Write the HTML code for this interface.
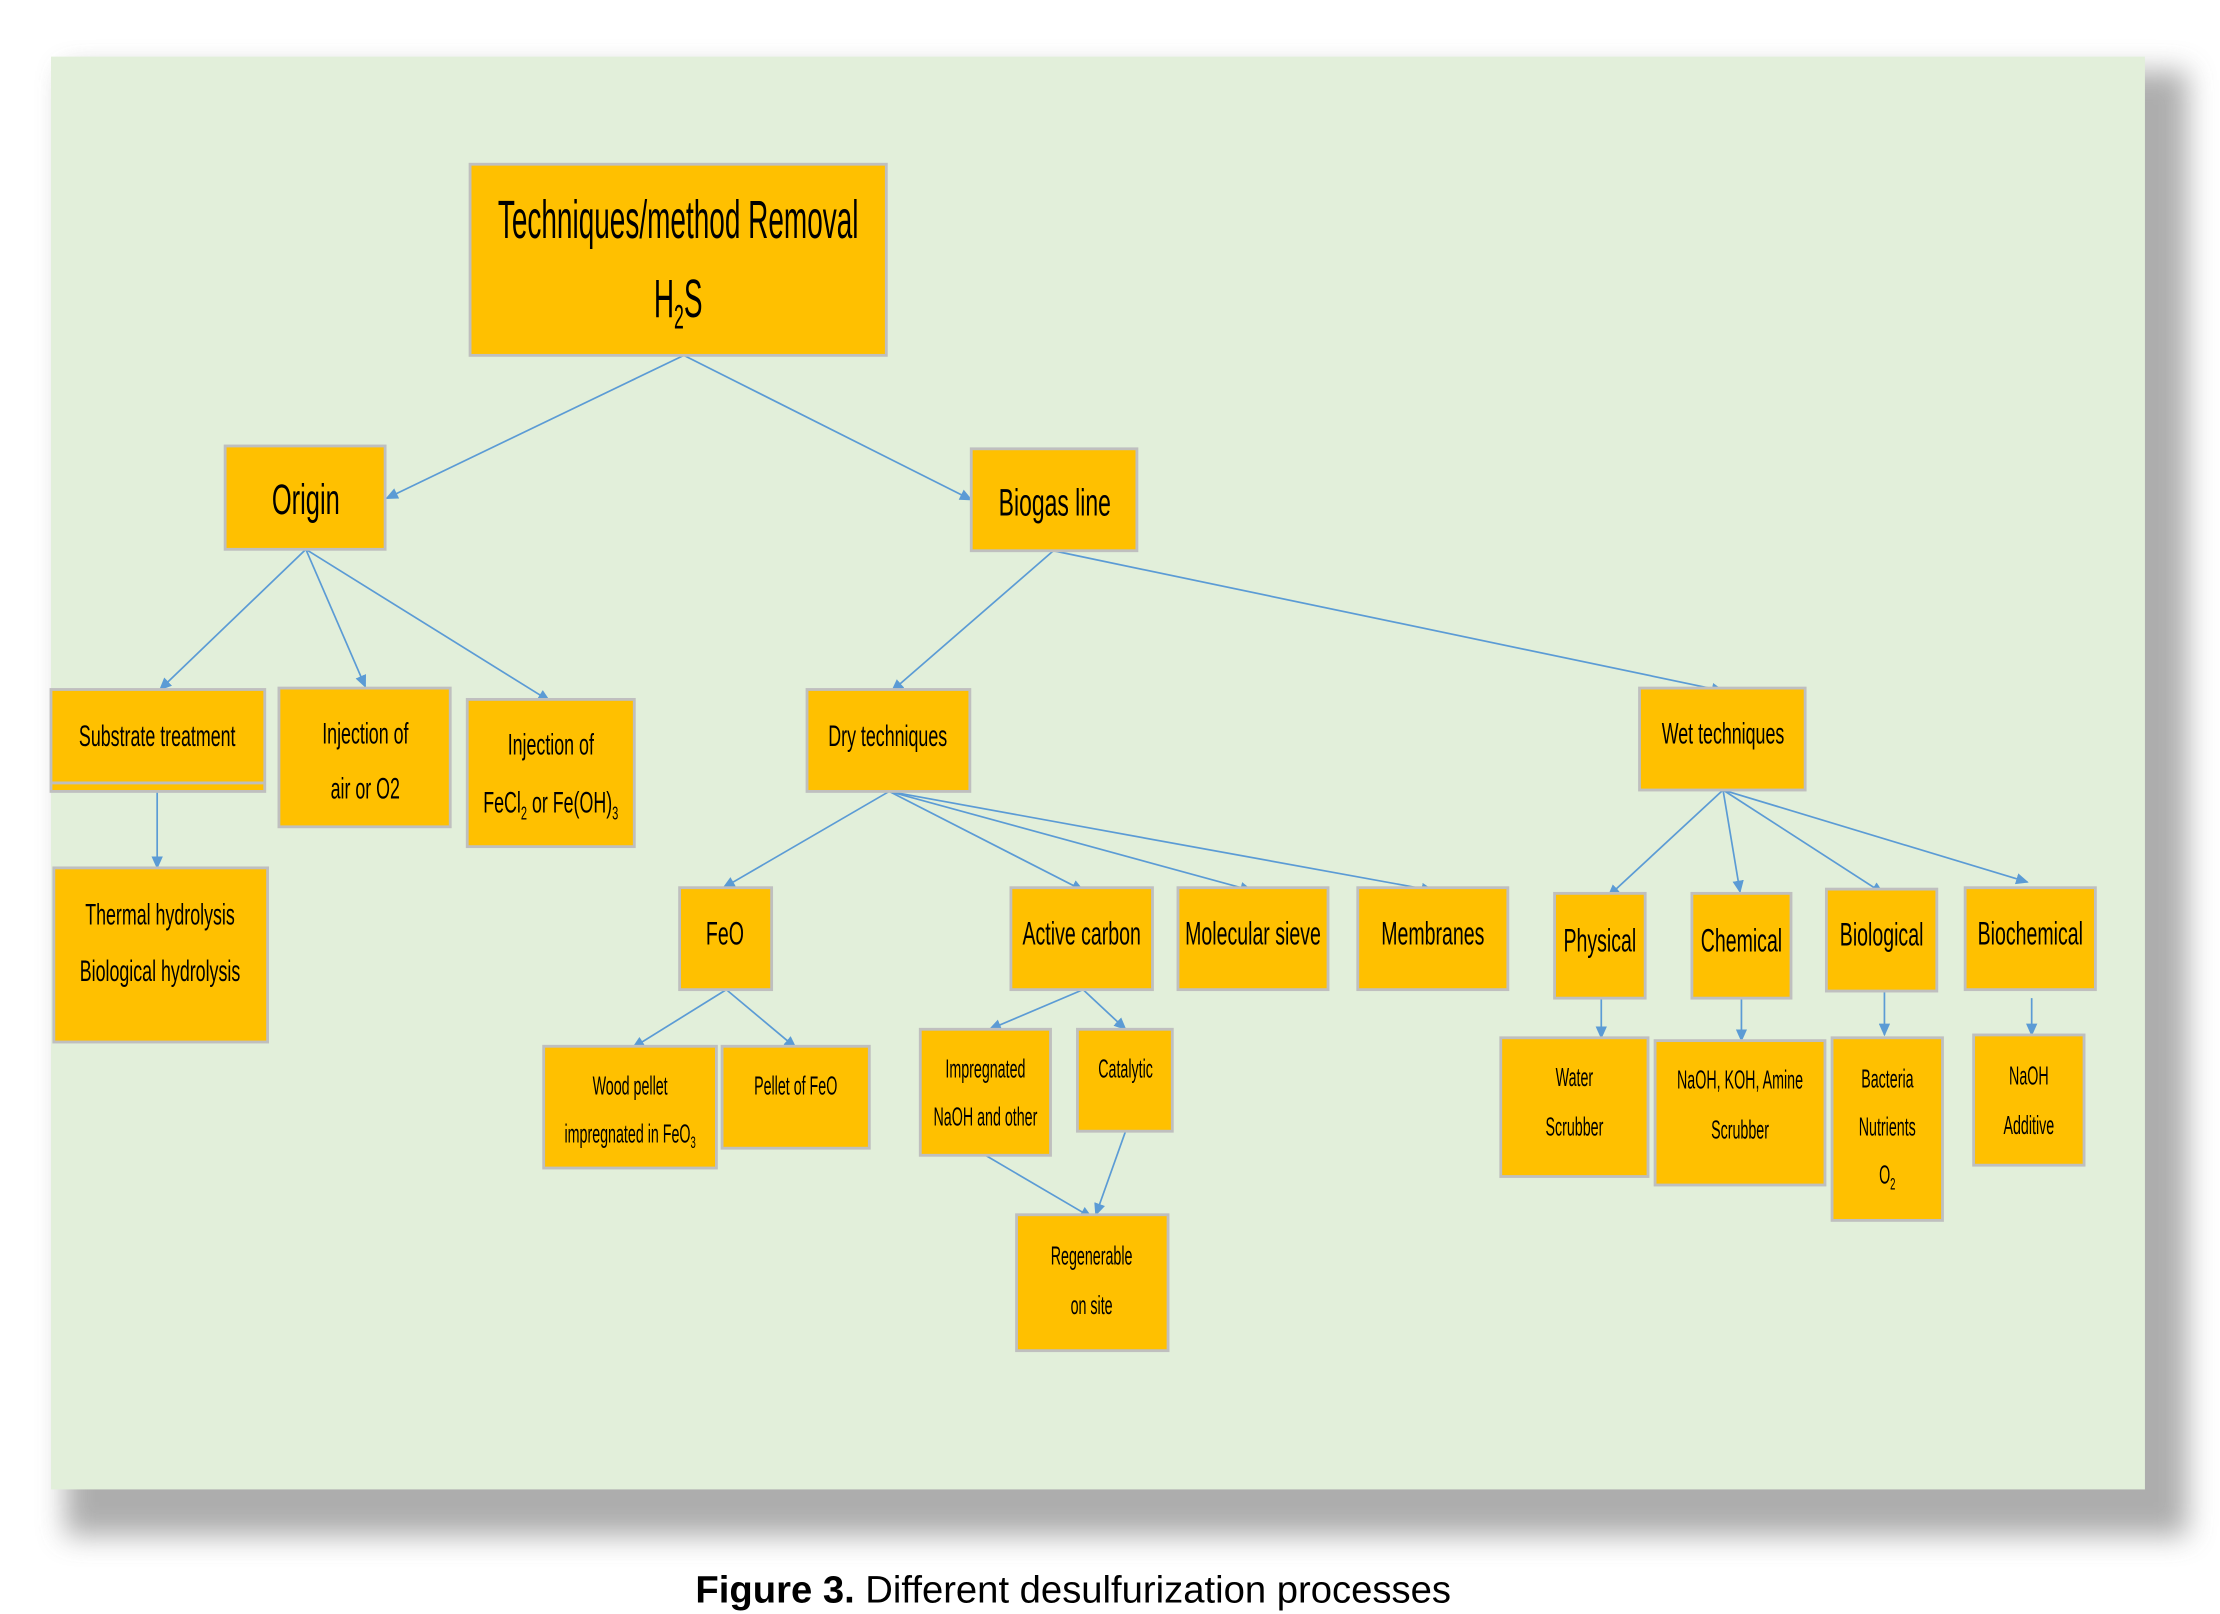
<!DOCTYPE html>
<html><head><meta charset="utf-8"><style>
html,body{margin:0;padding:0;background:#fff;}
svg{display:block}
text{font-family:"Liberation Sans",sans-serif;fill:#000;text-anchor:middle;transform-box:fill-box;transform-origin:center;transform:scaleX(0.6)}
text.t{transform:scaleX(0.52)}
text.s{transform:scaleX(0.56)}
text.c{transform:none}
</style></head><body>
<svg width="2220" height="1614" viewBox="0 0 1568 1140" xmlns="http://www.w3.org/2000/svg">
<defs>
<marker id="a" markerWidth="9" markerHeight="8" refX="8" refY="4" orient="auto" markerUnits="userSpaceOnUse">
<path d="M0,0 L9,4 L0,8 z" fill="#5B9BD5"/></marker>
<filter id="b" x="-5%" y="-5%" width="110%" height="110%"><feGaussianBlur stdDeviation="10"/></filter>
</defs>
<rect x="0" y="0" width="1568" height="1140" fill="#fff"/>
<rect x="46" y="50" width="1499" height="1035" fill="#999" filter="url(#b)" opacity="0.8"/>
<rect x="36" y="40" width="1479" height="1012" fill="#E2EFDA"/>
<g stroke="#5B9BD5" stroke-width="1.2" fill="none" marker-end="url(#a)">
<line x1="483" y1="251" x2="273" y2="352"/>
<line x1="483" y1="251" x2="686" y2="353"/>
<line x1="216" y1="388" x2="113" y2="487"/>
<line x1="216" y1="388" x2="258" y2="485"/>
<line x1="216" y1="388" x2="388" y2="495"/>
<line x1="111" y1="559" x2="111" y2="613"/>
<line x1="744" y1="389" x2="630" y2="488"/>
<line x1="744" y1="389" x2="1217" y2="488"/>
<line x1="628" y1="559" x2="511" y2="627"/>
<line x1="628" y1="559" x2="765" y2="629"/>
<line x1="628" y1="559" x2="884" y2="629"/>
<line x1="628" y1="559" x2="1012" y2="629"/>
<line x1="1217" y1="558" x2="1136" y2="633"/>
<line x1="1217" y1="558" x2="1229" y2="630"/>
<line x1="1217" y1="558" x2="1330" y2="631"/>
<line x1="1217" y1="558" x2="1432" y2="623"/>
<line x1="513" y1="699" x2="447" y2="740"/>
<line x1="513" y1="699" x2="562" y2="740"/>
<line x1="765" y1="699" x2="699" y2="727"/>
<line x1="765" y1="699" x2="795" y2="727"/>
<line x1="696" y1="816" x2="771" y2="860"/>
<line x1="795" y1="799" x2="774" y2="858"/>
<line x1="1131" y1="705" x2="1131" y2="733"/>
<line x1="1230" y1="705" x2="1230" y2="735"/>
<line x1="1331" y1="700" x2="1331" y2="731"/>
<line x1="1435" y1="705" x2="1435" y2="731"/>
</g>
<g fill="#FFC000" stroke="#BFBFBF" stroke-width="2">
<rect x="332" y="116" width="294" height="135"/>
<rect x="159" y="315" width="113" height="73"/>
<rect x="686" y="317" width="117" height="72"/>
<rect x="36" y="487" width="151" height="72"/>
<rect x="197" y="486" width="121" height="98"/>
<rect x="330" y="494" width="118" height="104"/>
<rect x="38" y="613" width="151" height="123"/>
<rect x="570" y="487" width="115" height="72"/>
<rect x="1158" y="486" width="117" height="72"/>
<rect x="480" y="627" width="65" height="72"/>
<rect x="714" y="627" width="100" height="72"/>
<rect x="832" y="627" width="106" height="72"/>
<rect x="959" y="627" width="106" height="72"/>
<rect x="1098" y="631" width="64" height="74"/>
<rect x="1195" y="631" width="70" height="74"/>
<rect x="1290" y="628" width="78" height="72"/>
<rect x="1388" y="627" width="92" height="72"/>
<rect x="384" y="739" width="122" height="86"/>
<rect x="510" y="739" width="104" height="72"/>
<rect x="650" y="727" width="92" height="89"/>
<rect x="761" y="727" width="67" height="72"/>
<rect x="718" y="858" width="107" height="96"/>
<rect x="1060" y="733" width="104" height="98"/>
<rect x="1169" y="735" width="120" height="102"/>
<rect x="1294" y="733" width="78" height="129"/>
<rect x="1394" y="731" width="78" height="92"/>
</g>
<line x1="36" y1="553" x2="187" y2="553" stroke="#BFBFBF" stroke-width="2"/>
<text class="t" x="479" y="168" font-size="38">Techniques/method  Removal</text>
<text class="t" x="479" y="224" font-size="38">H<tspan font-size="24" dy="8">2</tspan><tspan dy="-8">S</tspan></text>
<text x="216" y="363" font-size="30">Origin</text>
<text x="745" y="364" font-size="27">Biogas line</text>
<text x="111" y="527" font-size="21">Substrate treatment</text>
<text x="258" y="525" font-size="21">Injection of</text>
<text x="258" y="564" font-size="21">air or O2</text>
<text x="389" y="533" font-size="21">Injection of</text>
<text x="389" y="574" font-size="21">FeCl<tspan font-size="13" dy="5">2</tspan><tspan dy="-5"> or Fe(OH)</tspan><tspan font-size="13" dy="5">3</tspan></text>
<text x="113" y="653" font-size="21">Thermal hydrolysis</text>
<text x="113" y="693" font-size="21">Biological hydrolysis</text>
<text x="627" y="527" font-size="21">Dry techniques</text>
<text x="1217" y="525" font-size="21">Wet techniques</text>
<text x="512" y="667" font-size="23">FeO</text>
<text x="764" y="667" font-size="23">Active carbon</text>
<text x="885" y="667" font-size="23">Molecular sieve</text>
<text x="1012" y="667" font-size="23">Membranes</text>
<text x="1130" y="672" font-size="23">Physical</text>
<text x="1230" y="672" font-size="23">Chemical</text>
<text x="1329" y="668" font-size="23">Biological</text>
<text x="1434" y="667" font-size="23">Biochemical</text>
<text class="s" x="445" y="773" font-size="18">Wood pellet</text>
<text class="s" x="445" y="807" font-size="18">impregnated in FeO<tspan font-size="12" dy="4">3</tspan></text>
<text class="s" x="562" y="773" font-size="18">Pellet of  FeO</text>
<text class="s" x="696" y="761" font-size="18">Impregnated</text>
<text class="s" x="696" y="795" font-size="18">NaOH and other</text>
<text class="s" x="795" y="761" font-size="18">Catalytic</text>
<text class="s" x="771" y="893" font-size="18">Regenerable</text>
<text class="s" x="771" y="928" font-size="18">on site</text>
<text class="s" x="1112" y="767" font-size="18">Water</text>
<text class="s" x="1112" y="802" font-size="18">Scrubber</text>
<text class="s" x="1229" y="769" font-size="18">NaOH, KOH, Amine</text>
<text class="s" x="1229" y="804" font-size="18">Scrubber</text>
<text class="s" x="1333" y="768" font-size="18">Bacteria</text>
<text class="s" x="1333" y="802" font-size="18">Nutrients</text>
<text class="s" x="1333" y="836" font-size="18">O<tspan font-size="12" dy="4">2</tspan></text>
<text class="s" x="1433" y="766" font-size="18">NaOH</text>
<text class="s" x="1433" y="801" font-size="18">Additive</text>
<text class="c" x="758" y="1132" font-size="27"><tspan font-weight="bold">Figure 3.</tspan> Different desulfurization processes</text>
</svg>
</body></html>
